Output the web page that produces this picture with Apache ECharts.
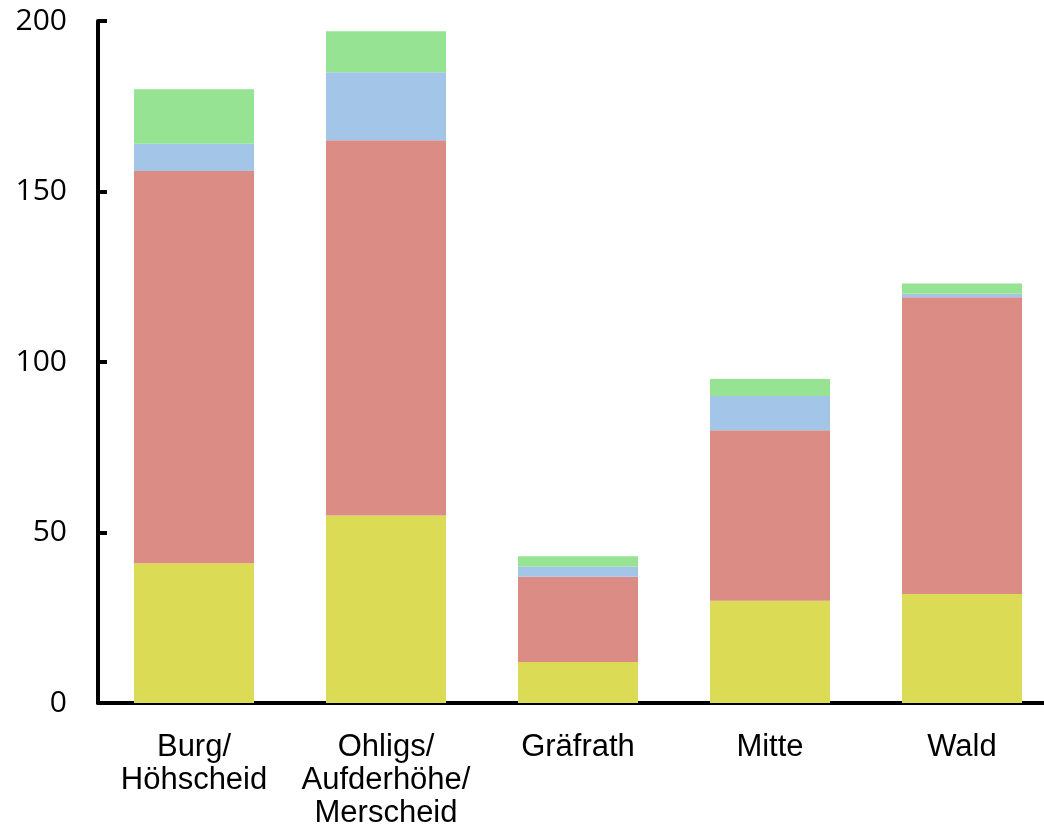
<!DOCTYPE html>
<html>
<head>
<meta charset="utf-8">
<script src="https://cdn.jsdelivr.net/npm/echarts@6/dist/echarts.min.js"></script>
<style>
	html, body { margin: 0; padding: 0; background: #fff; }
	#chart { width: 1044px; height: 832px; }
</style>
</head>
<body>
<div id="chart"></div>
<script>
// 数据
var categories = ['Burg/\nHöhscheid', 'Ohligs/\nAufderhöhe/\nMerscheid', 'Gräfrath', 'Mitte', 'Wald'];
var yellowData = [41, 55, 12, 30, 32];
var redData = [115, 110, 25, 50, 87];
var blueData = [8, 20, 3, 10, 1];
var greenData = [16, 12, 3, 5, 3];
var yTicks = [0, 50, 100, 150, 200];

var colors = ['#DCDB55', '#DA8C85', '#A3C6E8', '#96E493'];

function bar(name, data, i) {
	return {
		name: name,
		type: 'bar',
		stack: 'all',
		barWidth: '62.5%',
		itemStyle: { color: colors[i] },
		data: data
	};
}

var chart = echarts.init(document.getElementById('chart'));
chart.setOption({
	animation: false,
	grid: {
		left: 98,
		top: 21,
		width: 960,
		bottom: 129,
		containLabel: false,
		outerBoundsMode: 'none'
	},
	xAxis: [
		{
			type: 'category',
			data: categories,
			axisLine: { lineStyle: { color: '#000', width: 4 } },
			axisTick: { show: false },
			axisLabel: {
				color: '#000',
				fontFamily: 'Liberation Sans',
				fontSize: 31,
				lineHeight: 33,
				margin: 28,
				interval: 0
			}
		}
	],
	yAxis: [
		{
			type: 'value',
			min: yTicks[0],
			max: yTicks[yTicks.length - 1],
			interval: 50,
			splitLine: { show: false },
			axisLine: { show: true, lineStyle: { color: '#000', width: 4 } },
			axisTick: { show: true, inside: true, length: 9, lineStyle: { color: '#000', width: 4 } },
			axisLabel: {
				color: '#000',
				fontFamily: 'Open Sans',
				fontSize: 30,
				margin: 31
			}
		}
	],
	series: [
		bar('a', yellowData, 0),
		bar('b', redData, 1),
		bar('c', blueData, 2),
		bar('d', greenData, 3)
	]
});
</script>
</body>
</html>
